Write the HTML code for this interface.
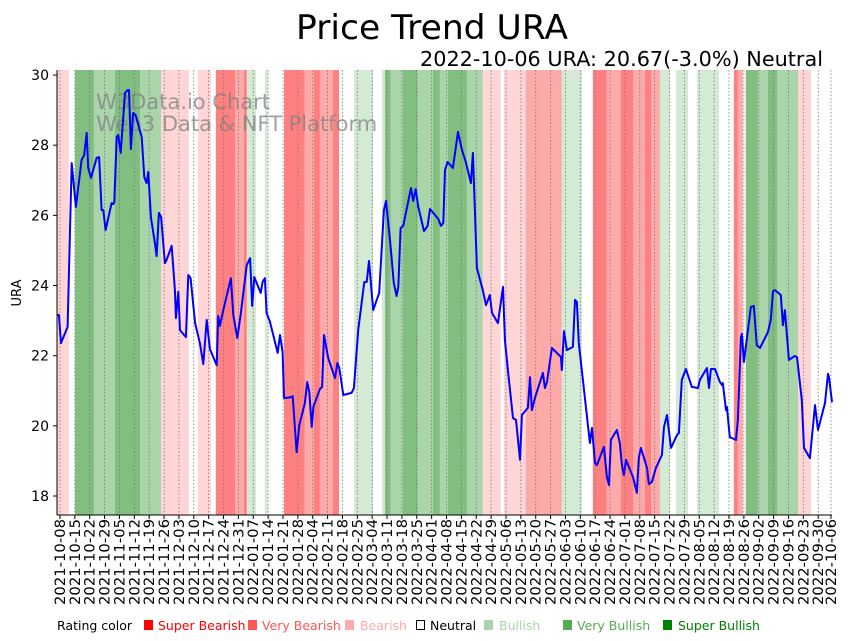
<!DOCTYPE html>
<html><head><meta charset="utf-8"><style>
html,body{margin:0;padding:0;background:#fff;}
svg{display:block;font-family:"DejaVu Sans","Liberation Sans",sans-serif;}
</style></head><body>
<svg id="chart" width="851" height="641" viewBox="0 0 851 641" xmlns="http://www.w3.org/2000/svg">
<text x="432" y="39" font-size="34" text-anchor="middle" textLength="272" lengthAdjust="spacingAndGlyphs">Price Trend URA</text>
<text x="823" y="66" font-size="20" text-anchor="end" textLength="403" lengthAdjust="spacingAndGlyphs">2022-10-06 URA: 20.67(-3.0%) Neutral</text>
<g id="bands"></g>
<g id="grid"></g>
<g fill="#808080" fill-opacity="0.75" font-size="21">
<text x="96" y="109">W3Data.io Chart</text>
<text x="96" y="131">Web3 Data &amp; NFT Platform</text>
</g>
<path id="line" fill="none" stroke="#0000ff" stroke-width="2" stroke-linejoin="round"/>
<g id="yaxis"></g>
<g id="xaxis"></g>
<line x1="57" y1="70" x2="57" y2="515" stroke="#000" stroke-width="1"/>
<line x1="57" y1="515" x2="832" y2="515" stroke="#000" stroke-width="1"/>
<text transform="translate(21,293) rotate(-90)" font-size="13" text-anchor="middle">URA</text>
<g font-size="12.5">
<text x="57" y="630">Rating color</text>
<rect x="144" y="620" width="9" height="10" fill="#ff0000"/>
<text x="158" y="630" fill="#ff0000">Super Bearish</text>
<rect x="248" y="620" width="9" height="10" fill="#ff5555"/>
<text x="262" y="630" fill="#ff5555">Very Bearish</text>
<rect x="345" y="620" width="9" height="10" fill="#ffaaaa"/>
<text x="360" y="630" fill="#ffaaaa">Bearish</text>
<rect x="416.5" y="620.5" width="8" height="9" fill="#fff" stroke="#000"/>
<text x="430" y="630" fill="#000">Neutral</text>
<rect x="484" y="620" width="9" height="10" fill="#aad4aa"/>
<text x="499" y="630" fill="#aad4aa">Bullish</text>
<rect x="563" y="620" width="9" height="10" fill="#55aa55"/>
<text x="577" y="630" fill="#55aa55">Very Bullish</text>
<rect x="663" y="620" width="9" height="10" fill="#008000"/>
<text x="678" y="630" fill="#008000">Super Bullish</text>
</g>
</svg>
<script>
// days since 2021-10-08
const days = [-1.4,-0.5,0.5,3.6,5.5,7.5,10.2,11.4,12.6,13.3,14.6,17.3,18.4,19.6,20.4,21.5,24.3,25.1,25.6,26.7,27.4,28.6,30.6,31.9,32.5,33.4,34.5,35.6,38.5,39.7,40.8,41.6,42.8,
44.7,45.5,46.6,47.6,49.4,50.2,52.6,54.1,54.6,55.7,56.5,59.3,60.4,61.5,63.6,65.9,67.5,69.1,70.6,73.8,74.5,75.3,76.9,80.5,81.6,83.5,85.2,87.9,89.5,90.5,91.5,94.5,95.4,96.5,97.3,98.9,102.5,103.6,104.8,105.5,109.1,
109.6,111.4,112.7,115.3,116.4,117.4,118.5,119.3,122.4,123.4,124.3,126.3,129.5,130.6,131.5,133.4,137.3,138.4,140.4,143.3,144.4,145.5,147.5,150.3,152.5,153.5,155.4,157.2,158.5,159.3,160.4,161.6,165.3,166.3,167.5,168.7,171.4,173.1,174.2,178.1,179.4,180.5,181.3,182.5,
185.0,187.4,189.3,191.1,193.5,194.4,196.3,199.1,200.6,202.4,203.4,206.2,208.6,209.5,210.9,213.3,214.7,216.6,217.5,220.3,221.3,222.2,223.6,227.4,228.3,229.3,231.6,235.9,236.3,237.3,238.7,241.5,242.5,243.4,244.3,246.2,249.5,250.5,251.9,252.8,256.1,257.5,258.5,259.4,262.2,263.6,264.6,265.5,266.5,269.8,271.6,272.6,273.5,276.4,277.3,278.7,280.6,283.4,284.4,285.8,287.7,290.5,291.4,292.8,294.7,297.5,300.4,301.3,304.6,305.6,306.5,308.4,310.7,311.7,312.1,313.6,314.0,315.4,318.3,319.2,320.6,321.1,322.0,325.3,326.7,328.1,329.6,333.3,334.7,335.7,336.6,339.4,340.4,341.3,343.2,346.0,347.0,349.3,350.3,353.1,355.5,356.9,360.2,361.6,362.1,363.5];
const prices = [23.16,23.16,22.36,22.82,27.49,26.24,27.58,27.72,28.35,27.35,27.07,27.64,27.66,26.15,26.15,25.58,26.35,26.32,26.38,28.23,28.29,27.78,29.49,29.57,29.57,27.89,28.92,28.86,28.23,27.09,26.92,27.24,25.95,
25.21,24.84,26.07,25.95,24.64,24.73,25.13,23.87,23.07,23.82,22.73,22.53,24.30,24.21,22.93,22.36,21.76,23.02,22.19,21.73,23.13,22.85,23.30,24.21,23.16,22.50,23.22,24.58,24.78,23.42,24.24,23.79,24.10,24.21,23.22,22.96,22.08,22.59,22.10,20.79,20.82,
20.85,19.25,20.02,20.65,21.25,20.96,19.97,20.54,21.05,21.11,22.59,21.93,21.36,21.79,21.65,20.88,20.94,21.08,22.73,24.10,24.10,24.70,23.30,23.79,26.15,26.41,25.30,24.07,23.70,23.96,25.64,25.70,26.78,26.41,26.75,26.24,25.55,25.70,26.18,25.90,25.70,25.78,27.29,27.52,
27.35,28.38,27.86,27.52,26.92,27.78,24.50,23.87,23.44,23.73,23.22,22.93,23.96,22.45,21.59,20.22,20.17,19.03,20.31,20.51,21.39,20.45,20.79,21.51,21.08,21.25,22.22,21.96,21.59,22.70,22.16,22.25,23.59,23.53,22.36,21.31,19.51,19.94,18.94,18.88,19.40,18.54,18.31,19.60,19.88,19.51,18.88,18.60,19.03,18.54,18.09,19.11,19.37,18.80,18.34,18.40,18.80,19.17,19.97,20.31,19.37,19.74,19.80,21.31,21.62,21.11,21.08,21.31,21.65,21.08,21.62,21.62,21.25,21.16,21.22,20.45,20.54,19.68,19.60,20.17,22.53,22.62,21.82,23.39,23.42,22.30,22.22,22.67,23.02,23.84,23.87,23.73,22.87,23.30,21.88,21.99,21.96,20.74,19.37,19.08,20.59,19.88,20.65,21.48,21.39,20.67];
const bandStarts = [-1.4,4.2,7.1,16.0,25.9,37.7,47.6,60.7,65.0,71.1,73.4,82.4,86.6,88.0,92.3,96.5,97.9,105.5,115.3,119.6,122.4,128.5,131.4,138.4,147.4,151.6,153.0,155.8,161.5,168.5,175.6,178.9,182.7,191.6,199.1,207.6,209.0,219.4,236.3,245.8,250.9,257.5,264.1,269.8,275.4,278.3,282.5,287.2,290.0,295.7,299.9,310.3,317.3,319.2,321.6,322.9,328.6,333.3,337.6,347.5,353.6];
const bandRatings = [-1,0,3,2,3,2,-1,0,-1,0,-3,-2,-3,1,0,1,0,-3,-2,-3,-2,-3,0,1,0,1,3,2,3,2,3,2,3,2,-1,0,-1,-2,1,0,-3,-2,-3,-2,-3,-2,1,0,1,0,1,0,-3,-2,0,3,2,3,2,-1,0];
const tickLabels = ["2021-10-08","2021-10-15","2021-10-22","2021-10-29","2021-11-05","2021-11-12","2021-11-19","2021-11-26","2021-12-03","2021-12-10","2021-12-17","2021-12-24","2021-12-31","2022-01-07","2022-01-14","2022-01-21","2022-01-28","2022-02-04","2022-02-11","2022-02-18","2022-02-25","2022-03-04","2022-03-11","2022-03-18","2022-03-25","2022-04-01","2022-04-08","2022-04-15","2022-04-22","2022-04-29","2022-05-06","2022-05-13","2022-05-20","2022-05-27","2022-06-03","2022-06-10","2022-06-17","2022-06-24","2022-07-01","2022-07-08","2022-07-15","2022-07-22","2022-07-29","2022-08-05","2022-08-12","2022-08-19","2022-08-26","2022-09-02","2022-09-09","2022-09-16","2022-09-23","2022-09-30","2022-10-06"];
const yTicks = [18,20,22,24,26,28,30];

const NS = "http://www.w3.org/2000/svg";
const X0 = 57, X1 = 832, Y0 = 70, Y1 = 515;
const dMin = -1.4, dMax = 363.5;
function xs(d){ return X0 + (d - dMin) / (dMax - dMin) * (X1 - X0); }
function ys(v){ return 496 - (v - 18) * 35.08; }
function dayOfLabel(s){ return Math.round((Date.parse(s) - Date.parse("2021-10-08")) / 86400000); }
const bandColors = {"-3":"#ff8080","-2":"#ffaaaa","-1":"#ffd5d5","0":"#ffffff","1":"#d4ead4","2":"#aad4aa","3":"#80bf80"};

const bands = document.getElementById('bands');
bandStarts.forEach((s, i) => {
  const e = i + 1 < bandStarts.length ? bandStarts[i + 1] : dMax;
  const r = document.createElementNS(NS, 'rect');
  
  
  r.setAttribute('x', xs(s));
  r.setAttribute('y', Y0);
  r.setAttribute('width', Math.max(0, xs(e) - xs(s)));
  r.setAttribute('height', Y1 - Y0);
  r.setAttribute('fill', bandColors[String(bandRatings[i])]);
  bands.appendChild(r);
});

const grid = document.getElementById('grid');
const xaxis = document.getElementById('xaxis');
tickLabels.forEach(lbl => {
  const x = xs(dayOfLabel(lbl));
  const g = document.createElementNS(NS, 'line');
  
  
  g.setAttribute('x1', x); g.setAttribute('x2', x);
  g.setAttribute('y1', Y0); g.setAttribute('y2', Y1);
  g.setAttribute('stroke', '#777'); g.setAttribute('stroke-width', '0.8');
  g.setAttribute('stroke-dasharray', '1.5,2');
  grid.appendChild(g);
  const t = document.createElementNS(NS, 'line');
  
  
  t.setAttribute('x1', x); t.setAttribute('x2', x);
  t.setAttribute('y1', Y1); t.setAttribute('y2', Y1 + 4);
  t.setAttribute('stroke', '#000');
  xaxis.appendChild(t);
  const tx = document.createElementNS(NS, 'text');
  
  
  tx.setAttribute('transform', 'translate(' + (x + 5) + ',519) rotate(-90)');
  tx.setAttribute('text-anchor', 'end');
  tx.setAttribute('font-size', '14');
  tx.setAttribute('textLength', '86');
  tx.setAttribute('lengthAdjust', 'spacingAndGlyphs');
  tx.textContent = lbl;
  xaxis.appendChild(tx);
});

const yaxis = document.getElementById('yaxis');
yTicks.forEach(v => {
  const y = ys(v);
  const t = document.createElementNS(NS, 'line');
  
  
  t.setAttribute('x1', X0 - 4); t.setAttribute('x2', X0);
  t.setAttribute('y1', y); t.setAttribute('y2', y);
  t.setAttribute('stroke', '#000');
  yaxis.appendChild(t);
  const tx = document.createElementNS(NS, 'text');
  
  
  tx.setAttribute('x', X0 - 8); tx.setAttribute('y', y + 5);
  tx.setAttribute('text-anchor', 'end');
  tx.setAttribute('font-size', '14');
  tx.textContent = v;
  yaxis.appendChild(tx);
});

let d = '';
const n = Math.min(days.length, prices.length);
for (let i = 0; i < n; i++) { d += (i ? 'L' : 'M') + xs(days[i]).toFixed(1) + ',' + ys(prices[i]).toFixed(1); }
document.getElementById('line').setAttribute('d', d);
</script>
</body></html>
